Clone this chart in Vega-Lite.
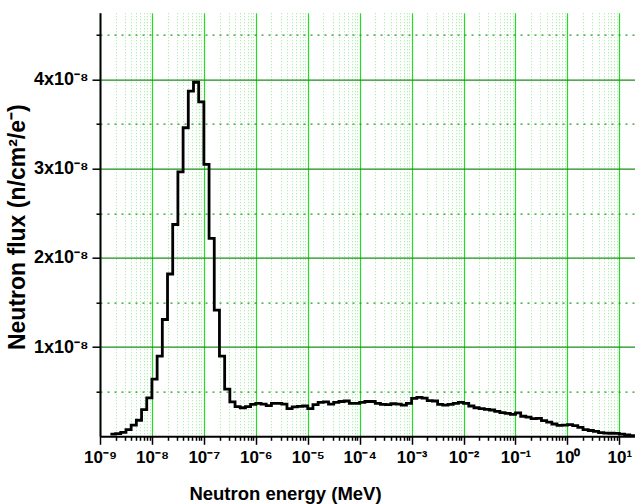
{
  "$schema": "https://vega.github.io/schema/vega-lite/v6.json",
  "autosize": "none",
  "width": 535,
  "height": 423.6,
  "padding": {"left": 100, "top": 12.7, "right": 0, "bottom": 67.7},
  "background": "white",
  "config": {
    "view": {"stroke": null},
    "axis": {"labelFont": "Liberation Sans", "titleFont": "Liberation Sans", "labelFontWeight": "bold", "titleFontWeight": "bold", "labelColor": "black", "titleColor": "black"}
  },
  "data": {"values": [
    {"E": 1.585e-9, "flux": 2.5e-10},
    {"E": 1.995e-9, "flux": 3.0e-10},
    {"E": 2.512e-9, "flux": 4.5e-10},
    {"E": 3.162e-9, "flux": 7.5e-10},
    {"E": 3.981e-9, "flux": 1.25e-9},
    {"E": 5.012e-9, "flux": 1.8e-9},
    {"E": 6.310e-9, "flux": 3.0e-9},
    {"E": 7.943e-9, "flux": 4.3e-9},
    {"E": 1.0e-8, "flux": 6.4e-9},
    {"E": 1.259e-8, "flux": 9.0e-9},
    {"E": 1.585e-8, "flux": 1.31e-8},
    {"E": 1.995e-8, "flux": 1.82e-8},
    {"E": 2.512e-8, "flux": 2.375e-8},
    {"E": 3.162e-8, "flux": 2.965e-8},
    {"E": 3.981e-8, "flux": 3.46e-8},
    {"E": 5.012e-8, "flux": 3.87e-8},
    {"E": 6.310e-8, "flux": 3.97e-8},
    {"E": 7.943e-8, "flux": 3.75e-8},
    {"E": 1.0e-7, "flux": 3.05e-8},
    {"E": 1.259e-7, "flux": 2.22e-8},
    {"E": 1.585e-7, "flux": 1.415e-8},
    {"E": 1.995e-7, "flux": 9.0e-9},
    {"E": 2.512e-7, "flux": 5.3e-9},
    {"E": 3.162e-7, "flux": 3.85e-9},
    {"E": 3.981e-7, "flux": 3.32e-9},
    {"E": 5.012e-7, "flux": 3.2e-9},
    {"E": 6.310e-7, "flux": 3.32e-9},
    {"E": 7.943e-7, "flux": 3.58e-9},
    {"E": 1.0e-6, "flux": 3.7e-9},
    {"E": 1.259e-6, "flux": 3.6e-9},
    {"E": 1.585e-6, "flux": 3.45e-9},
    {"E": 1.995e-6, "flux": 3.7e-9},
    {"E": 2.512e-6, "flux": 3.7e-9},
    {"E": 3.162e-6, "flux": 3.6e-9},
    {"E": 3.981e-6, "flux": 3.1e-9},
    {"E": 5.012e-6, "flux": 3.3e-9},
    {"E": 6.310e-6, "flux": 3.35e-9},
    {"E": 7.943e-6, "flux": 3.4e-9},
    {"E": 1.0e-5, "flux": 3.1e-9},
    {"E": 1.259e-5, "flux": 3.55e-9},
    {"E": 1.585e-5, "flux": 3.8e-9},
    {"E": 1.995e-5, "flux": 3.85e-9},
    {"E": 2.512e-5, "flux": 3.6e-9},
    {"E": 3.162e-5, "flux": 3.8e-9},
    {"E": 3.981e-5, "flux": 3.9e-9},
    {"E": 5.012e-5, "flux": 3.96e-9},
    {"E": 6.310e-5, "flux": 3.7e-9},
    {"E": 7.943e-5, "flux": 3.7e-9},
    {"E": 1.0e-4, "flux": 3.8e-9},
    {"E": 1.259e-4, "flux": 3.9e-9},
    {"E": 1.585e-4, "flux": 3.9e-9},
    {"E": 1.995e-4, "flux": 3.7e-9},
    {"E": 2.512e-4, "flux": 3.58e-9},
    {"E": 3.162e-4, "flux": 3.55e-9},
    {"E": 3.981e-4, "flux": 3.65e-9},
    {"E": 5.012e-4, "flux": 3.6e-9},
    {"E": 6.310e-4, "flux": 3.5e-9},
    {"E": 7.943e-4, "flux": 3.7e-9},
    {"E": 1.0e-3, "flux": 4.26e-9},
    {"E": 1.259e-3, "flux": 4.37e-9},
    {"E": 1.585e-3, "flux": 4.28e-9},
    {"E": 1.995e-3, "flux": 4.0e-9},
    {"E": 2.512e-3, "flux": 3.96e-9},
    {"E": 3.162e-3, "flux": 3.58e-9},
    {"E": 3.981e-3, "flux": 3.5e-9},
    {"E": 5.012e-3, "flux": 3.58e-9},
    {"E": 6.310e-3, "flux": 3.7e-9},
    {"E": 7.943e-3, "flux": 3.8e-9},
    {"E": 1.0e-2, "flux": 3.7e-9},
    {"E": 1.259e-2, "flux": 3.4e-9},
    {"E": 1.585e-2, "flux": 3.2e-9},
    {"E": 1.995e-2, "flux": 3.1e-9},
    {"E": 2.512e-2, "flux": 3.03e-9},
    {"E": 3.162e-2, "flux": 2.95e-9},
    {"E": 3.981e-2, "flux": 2.8e-9},
    {"E": 5.012e-2, "flux": 2.65e-9},
    {"E": 6.310e-2, "flux": 2.57e-9},
    {"E": 7.943e-2, "flux": 2.46e-9},
    {"E": 0.1, "flux": 2.62e-9},
    {"E": 0.1259, "flux": 2.25e-9},
    {"E": 0.1585, "flux": 2.15e-9},
    {"E": 0.1995, "flux": 1.98e-9},
    {"E": 0.2512, "flux": 2.02e-9},
    {"E": 0.3162, "flux": 1.75e-9},
    {"E": 0.3981, "flux": 1.6e-9},
    {"E": 0.5012, "flux": 1.38e-9},
    {"E": 0.6310, "flux": 1.23e-9},
    {"E": 0.7943, "flux": 1.25e-9},
    {"E": 1.0, "flux": 1.3e-9},
    {"E": 1.259, "flux": 1.2e-9},
    {"E": 1.585, "flux": 1.0e-9},
    {"E": 1.995, "flux": 7.5e-10},
    {"E": 2.512, "flux": 6.5e-10},
    {"E": 3.162, "flux": 5.5e-10},
    {"E": 3.981, "flux": 4.2e-10},
    {"E": 5.012, "flux": 3.6e-10},
    {"E": 6.310, "flux": 3.4e-10},
    {"E": 7.943, "flux": 3.2e-10},
    {"E": 10.0, "flux": 2.5e-10},
    {"E": 12.59, "flux": 1.6e-10},
    {"E": 15.85, "flux": 8e-11},
    {"E": 19.95, "flux": 8e-11}
  ]},
  "resolve": {"axis": {"x": "independent", "y": "independent"}},
  "layer": [
    {
      "mark": {"type": "line", "strokeOpacity": 0, "interpolate": "step-after"},
      "encoding": {
        "x": {"field": "E", "type": "quantitative",
          "scale": {"type": "log", "domain": [1e-9, 20], "nice": false},
          "axis": {"orient": "bottom", "values": [2e-9,3e-9,4e-9,5e-9,6e-9,7e-9,8e-9,9e-9,2e-8,3e-8,4e-8,5e-8,6e-8,7e-8,8e-8,9e-8,2e-7,3e-7,4e-7,5e-7,6e-7,7e-7,8e-7,9e-7,2e-6,3e-6,4e-6,5e-6,6e-6,7e-6,8e-6,9e-6,2e-5,3e-5,4e-5,5e-5,6e-5,7e-5,8e-5,9e-5,2e-4,3e-4,4e-4,5e-4,6e-4,7e-4,8e-4,9e-4,2e-3,3e-3,4e-3,5e-3,6e-3,7e-3,8e-3,9e-3,0.02,0.03,0.04,0.05,0.06,0.07,0.08,0.09,0.2,0.3,0.4,0.5,0.6,0.7,0.8,0.9,2,3,4,5,6,7,8,9],
            "labels": false, "domain": false, "title": null,
            "grid": true, "gridColor": "#7ee87e", "gridDash": [1, 2], "gridWidth": 1, "gridOpacity": 0.8,
            "ticks": true, "tickSize": 4, "tickColor": "black", "tickWidth": 1.5}
        },
        "y": {"field": "flux", "type": "quantitative",
          "scale": {"domain": [0, 4.75e-8], "nice": false, "zero": true},
          "axis": {"orient": "left", "values": [5e-9, 1.5e-8, 2.5e-8, 3.5e-8, 4.5e-8],
            "labels": false, "domain": false, "title": null,
            "grid": true, "gridColor": "#1f9a1f", "gridDash": [2, 5], "gridWidth": 1.2,
            "ticks": true, "tickSize": 4, "tickColor": "black", "tickWidth": 1.5}
        }
      }
    },
    {
      "mark": {"type": "line", "color": "black", "strokeWidth": 2.8, "interpolate": "step-after"},
      "encoding": {
        "x": {"field": "E", "type": "quantitative",
          "scale": {"type": "log", "domain": [1e-9, 20], "nice": false},
          "axis": {"orient": "bottom", "values": [1e-9,1e-8,1e-7,1e-6,1e-5,1e-4,1e-3,1e-2,1e-1,1,10],
            "labelExpr": "'10' + replace(replace(replace(replace(replace(replace(replace(replace(replace(replace(replace(toString(round(log(datum.value)/LN10)), '-', '⁻'), '0', '⁰'), '1', '¹'), '2', '²'), '3', '³'), '4', '⁴'), '5', '⁵'), '6', '⁶'), '7', '⁷'), '8', '⁸'), '9', '⁹')",
            "labelFontSize": 17, "labelPadding": 5, "labelFlush": false, "labelOverlap": false,
            "domain": true, "domainColor": "black", "domainWidth": 2,
            "grid": true, "gridColor": "#22dd22", "gridWidth": 1.2,
            "ticks": true, "tickSize": 8, "tickColor": "black", "tickWidth": 1.5,
            "title": "Neutron energy (MeV)", "titleFontSize": 18.5, "titleX": 185, "titleY": 63, "titleBaseline": "alphabetic", "titleAlign": "center", "titleAnchor": null}
        },
        "y": {"field": "flux", "type": "quantitative",
          "scale": {"domain": [0, 4.75e-8], "nice": false, "zero": true},
          "axis": {"orient": "left", "values": [1e-8, 2e-8, 3e-8, 4e-8],
            "labelExpr": "format(datum.value * 1e8, 'd') + 'x10⁻⁸'",
            "labelFontSize": 18, "labelPadding": 4,
            "domain": true, "domainColor": "black", "domainWidth": 2,
            "grid": true, "gridColor": "#188f18", "gridWidth": 1.3,
            "ticks": true, "tickSize": 8, "tickColor": "black", "tickWidth": 1.5,
            "title": "Neutron flux (n/cm²/e⁻)", "titleFontSize": 23, "titleX": -83, "titleY": 214, "titleAngle": -90, "titleBaseline": "middle", "titleAlign": "center", "titleAnchor": null}
        }
      }
    }
  ]
}
